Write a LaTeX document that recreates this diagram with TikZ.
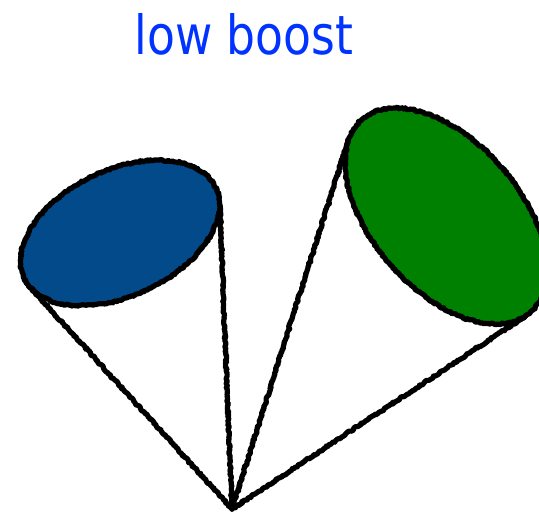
\documentclass[tikz,border=0pt]{standalone}
\usepackage{fontspec}
\newfontfamily\titlefont{DejaVu Sans}
\usetikzlibrary{decorations.pathmorphing}
\definecolor{titleblue}{RGB}{0,51,255}
\definecolor{capblue}{RGB}{3,74,138}
\definecolor{capgreen}{RGB}{0,128,0}
\tikzset{
  rough/.style={draw=black, line width=5.2pt, line join=round, line cap=round,
    decorate, decoration={random steps, segment length=1.6pt, amplitude=0.9pt}},
  titletext/.style={text=titleblue, font=\titlefont\fontsize{54}{60}\selectfont, inner sep=0pt, anchor=base}
}
\begin{document}
\begin{tikzpicture}[x=1pt,y=1pt]
\useasboundingbox (0,0) rectangle (539,517);
\node[titletext] (title) at (244,462) {\scalebox{0.845}[1]{low boost}};
\coordinate (apex) at (232,8);
% blue cone
\begin{scope}[shift={(120,284)}, rotate=25.2]
  \fill[capblue] (0,0) ellipse [x radius=106pt, y radius=63pt];
  \draw[rough] (0,0) ellipse [x radius=106pt, y radius=63pt];
  \coordinate (bl) at (190.5:106pt and 63pt);
  \coordinate (br) at (-14.2:106pt and 63pt);
\end{scope}
% green cone
\begin{scope}[shift={(446,301)}, rotate=-48.9]
  \fill[capgreen] (0,0) ellipse [x radius=128pt, y radius=74pt];
  \draw[rough] (0,0) ellipse [x radius=128pt, y radius=74pt];
  \coordinate (gl) at (-160.71:128pt and 74pt);
  \coordinate (gr) at (-4.21:128pt and 74pt);
\end{scope}
\draw[rough] (apex) -- (bl);
\draw[rough] (apex) -- (br);
\draw[rough] (apex) -- (gl);
\draw[rough] (apex) -- (gr);
\end{tikzpicture}
\end{document}
